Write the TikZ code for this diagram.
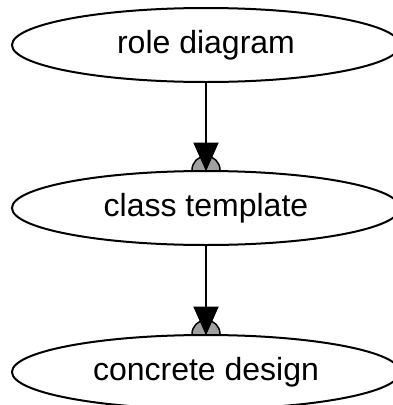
\documentclass[tikz,border=0pt]{standalone}
\usepackage{fontspec}
\setmainfont{Liberation Sans}
\usetikzlibrary{shapes.geometric}
\pgfdeclarelayer{background}
\pgfsetlayers{background,main}
\definecolor{dotgray}{RGB}{160,160,160}
\begin{document}
\begin{tikzpicture}[x=1pt,y=-1pt,
  statebox/.style={draw=black, line width=2pt, fill=white, ellipse,
    minimum width=388pt, minimum height=74pt, inner sep=0pt,
    font=\fontsize{32pt}{38pt}\selectfont},
  edgeline/.style={draw=black, line width=2pt},
  dotcirc/.style={fill=dotgray, draw=black, line width=1.5pt},
  headtri/.style={fill=black, draw=black, line width=1pt, line join=miter}
]
\useasboundingbox (0,0) rectangle (392,405);
\node[statebox] (a) at (206,45) {role diagram};
\node[statebox] (b) at (206,208) {class template};
\node[statebox] (c) at (206,372) {concrete design};
\begin{pgfonlayer}{background}
\draw[edgeline] (a.south) -- ([yshift=20pt]b.north);
\draw[dotcirc] (b.north) circle[radius=14pt];
\draw[headtri] ([xshift=-12pt,yshift=27pt]b.north) -- (b.north) -- ([xshift=12pt,yshift=27pt]b.north) -- cycle;
\draw[edgeline] (b.south) -- ([yshift=20pt]c.north);
\draw[dotcirc] (c.north) circle[radius=14pt];
\draw[headtri] ([xshift=-12pt,yshift=27pt]c.north) -- (c.north) -- ([xshift=12pt,yshift=27pt]c.north) -- cycle;
\end{pgfonlayer}
\end{tikzpicture}
\end{document}
